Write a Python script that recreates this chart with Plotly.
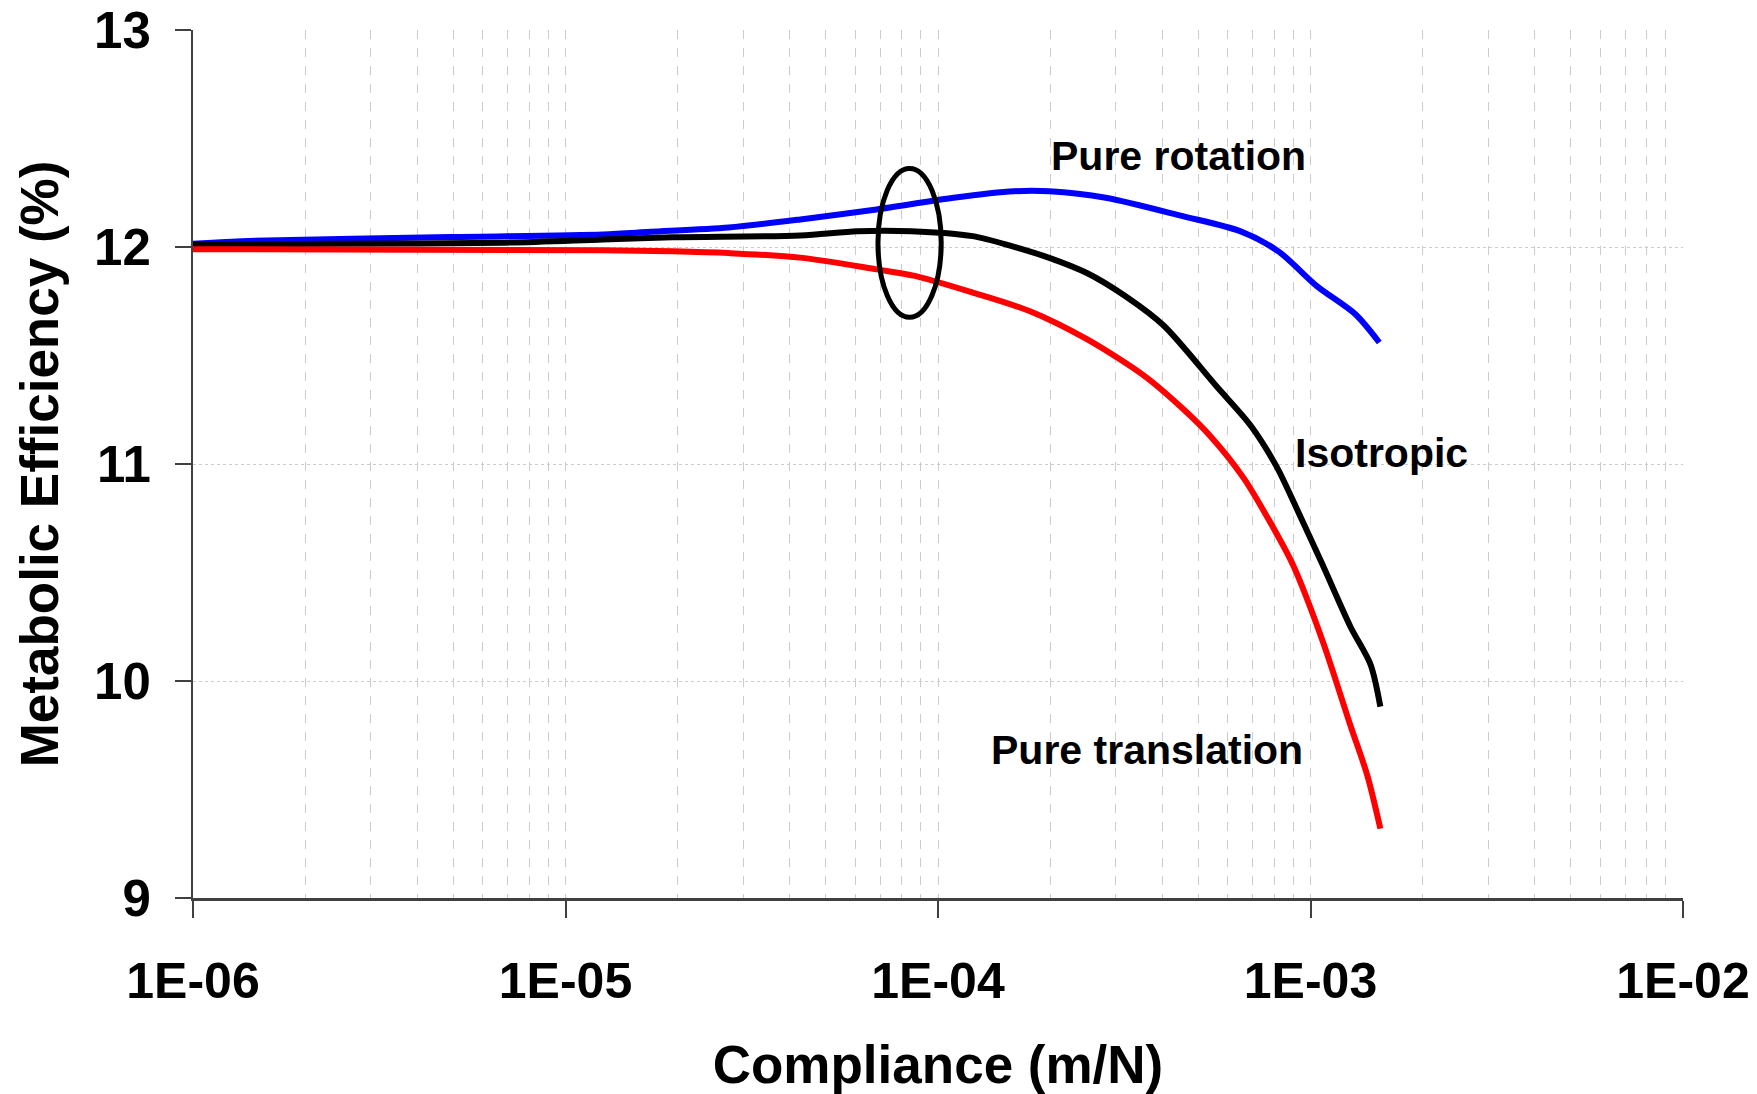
import plotly.graph_objects as go

# ---- data ----
rot_x = [1.0e-6, 1.35e-6, 4.91e-6, 1.26e-5, 1.69e-5, 2.74e-5, 4.27e-5, 6.84e-5, 1.10e-4,
         1.60e-4, 1.99e-4, 2.82e-4, 4.54e-4, 6.47e-4, 8.20e-4, 1.04e-3, 1.32e-3, 1.53e-3]
rot_y = [12.015, 12.027, 12.046, 12.058, 12.07, 12.09, 12.127, 12.173, 12.227,
         12.257, 12.257, 12.227, 12.142, 12.073, 11.98, 11.82, 11.69, 11.56]

iso_x = [1.0e-6, 2.43e-6, 6.85e-6, 1.26e-5, 1.94e-5, 4.27e-5, 6.08e-5, 8.47e-5, 1.24e-4,
         1.57e-4, 1.99e-4, 2.51e-4, 3.18e-4, 4.04e-4, 5.60e-4, 6.89e-4, 8.11e-4, 9.18e-4,
         1.08e-3, 1.28e-3, 1.45e-3, 1.54e-3]
iso_y = [12.01, 12.015, 12.02, 12.035, 12.045, 12.053, 12.073, 12.073, 12.05,
         12.005, 11.95, 11.88, 11.774, 11.637, 11.357, 11.18, 10.988, 10.795,
         10.532, 10.25, 10.075, 9.882]

tra_x = [1.0e-6, 1.26e-5, 1.94e-5, 2.74e-5, 4.27e-5, 6.84e-5, 8.67e-5, 1.24e-4, 1.76e-4,
         2.51e-4, 3.58e-4, 4.56e-4, 5.38e-4, 6.61e-4, 7.94e-4, 8.99e-4, 1.08e-3, 1.28e-3,
         1.42e-3, 1.54e-3]
tra_y = [11.99, 11.985, 11.98, 11.972, 11.951, 11.897, 11.867, 11.79, 11.705,
         11.575, 11.406, 11.252, 11.129, 10.936, 10.707, 10.532, 10.18, 9.795,
         9.566, 9.32]

x_tickvals = [1e-6, 1e-5, 1e-4, 1e-3, 1e-2]
x_ticktext = ["1E-06", "1E-05", "1E-04", "1E-03", "1E-02"]
y_tickvals = [9, 10, 11, 12, 13]

labels = ["Pure rotation", "Isotropic", "Pure translation"]
label_logx = [-3.355, -2.809, -3.44]
label_y = [12.42, 11.052, 9.68]

# highlighted region (ellipse)
ell_x = [6.9e-5, 1.02e-4]
ell_y = [11.676, 12.362]

FONT = "Liberation Sans, Arial, sans-serif"

fig = go.Figure()
for xs, ys, col in [(rot_x, rot_y, "#0000ff"), (iso_x, iso_y, "#000000"), (tra_x, tra_y, "#ff0000")]:
    fig.add_trace(go.Scatter(x=xs, y=ys, mode="lines",
                             line=dict(color=col, width=6, shape="spline", smoothing=0.8),
                             showlegend=False, hoverinfo="skip"))

fig.add_shape(type="circle", xref="x", yref="y",
              x0=ell_x[0], x1=ell_x[1], y0=ell_y[0], y1=ell_y[1],
              line=dict(color="black", width=5))

for t, lx, ly in zip(labels, label_logx, label_y):
    fig.add_annotation(x=lx, y=ly, xref="x", yref="y", text=t, showarrow=False,
                       font=dict(family=FONT, size=41, color="black", weight=700),
                       xanchor="center", yanchor="middle")

fig.update_layout(
    width=1757, height=1094,
    margin=dict(l=193, r=74, t=30, b=196),
    paper_bgcolor="white", plot_bgcolor="white",
    showlegend=False,
)
fig.update_xaxes(
    type="log", range=[-6, -2], automargin=False,
    tickvals=x_tickvals, ticktext=x_ticktext,
    tickfont=dict(family=FONT, size=50, color="black", weight=700),
    ticks="outside", ticklen=17, tickwidth=2, tickcolor="#404040",
    ticklabelstandoff=20,
    showline=True, linecolor="#404040", linewidth=3,
    showgrid=True, gridcolor="#cccccc", griddash="dash", gridwidth=1,
    minor=dict(tickvals=[m * 10.0 ** e for e in range(-6, -2) for m in range(2, 10)],
               showgrid=True, gridcolor="#cccccc", griddash="dash", gridwidth=1, ticks=""),
    zeroline=False,
    title=dict(text="Compliance (m/N)", font=dict(family=FONT, size=53, color="black", weight=700),
               standoff=38),
)
fig.update_yaxes(
    range=[9, 13], tickvals=y_tickvals, automargin=False,
    tickfont=dict(family=FONT, size=51, color="black", weight=700),
    ticks="outside", ticklen=16, tickwidth=2, tickcolor="#404040",
    ticklabelstandoff=14,
    showline=True, linecolor="#404040", linewidth=2,
    showgrid=True, gridcolor="#cccccc", griddash="dot", gridwidth=1,
    zeroline=False,
    title=dict(text="Metabolic Efficiency (%)", font=dict(family=FONT, size=53, color="black", weight=700),
               standoff=19),
)

fig.write_html("out.html")
